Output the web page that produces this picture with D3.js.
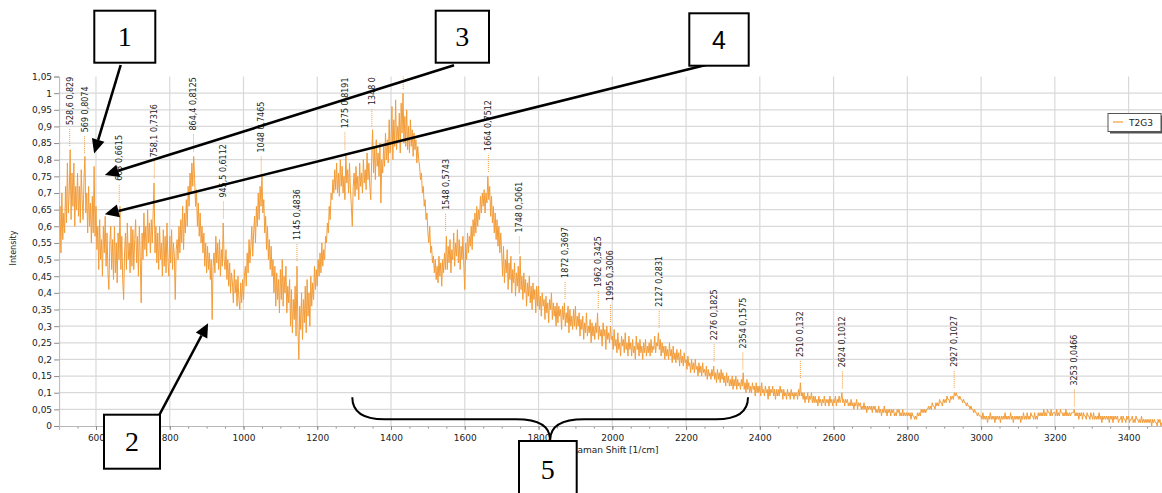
<!DOCTYPE html>
<html>
<head>
<meta charset="utf-8">
<script src="https://cdn.jsdelivr.net/npm/d3@7"></script>
<style>
  body { margin: 0; background: #fff; }
  svg { display: block; }
</style>
</head>
<body>
<svg id="chart" width="1162" height="493"></svg>
<script>
// Raman spectrum of sample T2G3: one intensity every 2.5 cm-1, starting at 500 cm-1
const seriesName = "T2G3";
const shiftStart = 500;
const shiftStep = 2.5;
const intensity = [
  /* 500 */ 0.60,0.66,0.52,0.70,0.56,0.64,0.58,0.72,0.61,0.79,0.64,0.70,0.83,0.62,0.76,0.66,0.79,0.60,0.72,0.65,
  /* 550 */ 0.76,0.63,0.72,0.61,0.77,0.68,0.62,0.74,0.81,0.64,0.70,0.58,0.72,0.60,0.67,0.55,0.69,0.58,0.78,0.57,
  /* 600 */ 0.66,0.53,0.60,0.47,0.62,0.50,0.56,0.45,0.60,0.52,0.63,0.48,0.58,0.46,0.41,0.55,0.60,0.47,0.56,0.44,
  /* 650 */ 0.60,0.46,0.55,0.43,0.58,0.50,0.66,0.47,0.57,0.44,0.38,0.52,0.58,0.47,0.61,0.50,0.55,0.46,0.60,0.48,
  /* 700 */ 0.59,0.47,0.56,0.62,0.49,0.57,0.45,0.60,0.51,0.37,0.58,0.50,0.64,0.53,0.60,0.51,0.65,0.55,0.61,0.52,
  /* 750 */ 0.62,0.55,0.64,0.73,0.52,0.60,0.49,0.58,0.47,0.60,0.50,0.55,0.45,0.59,0.48,0.57,0.46,0.61,0.50,0.45,
  /* 800 */ 0.57,0.49,0.59,0.47,0.55,0.51,0.38,0.53,0.56,0.50,0.60,0.52,0.62,0.55,0.66,0.53,0.64,0.58,0.68,0.60,
  /* 850 */ 0.72,0.66,0.76,0.70,0.79,0.72,0.81,0.74,0.66,0.71,0.60,0.67,0.57,0.64,0.55,0.60,0.52,0.58,0.48,0.55,
  /* 900 */ 0.46,0.54,0.47,0.52,0.44,0.50,0.32,0.48,0.52,0.46,0.57,0.49,0.55,0.47,0.56,0.45,0.53,0.48,0.61,0.50,
  /* 950 */ 0.47,0.53,0.44,0.50,0.42,0.49,0.40,0.46,0.43,0.37,0.47,0.40,0.44,0.36,0.45,0.38,0.35,0.43,0.37,0.44,
  /* 1000 */ 0.38,0.45,0.48,0.42,0.52,0.46,0.56,0.49,0.54,0.60,0.51,0.58,0.63,0.55,0.66,0.60,0.70,0.62,0.72,0.66,
  /* 1050 */ 0.75,0.64,0.68,0.58,0.63,0.53,0.60,0.50,0.56,0.47,0.54,0.45,0.50,0.40,0.48,0.36,0.46,0.38,0.44,0.34,
  /* 1100 */ 0.47,0.38,0.50,0.36,0.45,0.40,0.48,0.34,0.42,0.37,0.44,0.30,0.41,0.28,0.38,0.32,0.42,0.27,0.48,0.30,
  /* 1150 */ 0.20,0.36,0.29,0.40,0.26,0.38,0.31,0.42,0.28,0.44,0.33,0.40,0.30,0.45,0.36,0.43,0.38,0.48,0.41,0.47,
  /* 1200 */ 0.42,0.50,0.45,0.52,0.46,0.55,0.48,0.53,0.50,0.57,0.55,0.61,0.58,0.66,0.62,0.70,0.68,0.74,0.70,0.77,
  /* 1250 */ 0.71,0.79,0.70,0.76,0.69,0.80,0.72,0.78,0.70,0.75,0.68,0.82,0.73,0.77,0.70,0.79,0.71,0.66,0.60,0.72,
  /* 1300 */ 0.76,0.69,0.78,0.71,0.75,0.68,0.79,0.72,0.76,0.70,0.80,0.73,0.77,0.71,0.82,0.74,0.79,0.72,0.68,0.80,
  /* 1350 */ 0.89,0.76,0.84,0.74,0.86,0.78,0.82,0.75,0.85,0.67,0.80,0.76,0.84,0.78,0.88,0.80,0.86,0.79,0.92,0.82,
  /* 1400 */ 0.85,0.96,0.80,0.92,0.84,0.98,0.83,0.90,0.86,0.94,0.82,0.97,0.88,1.00,0.85,0.93,0.84,0.95,0.83,0.90,
  /* 1450 */ 0.82,0.92,0.84,0.89,0.81,0.88,0.83,0.86,0.79,0.84,0.80,0.78,0.74,0.76,0.70,0.72,0.66,0.68,0.62,0.64,
  /* 1500 */ 0.58,0.55,0.60,0.52,0.54,0.49,0.51,0.46,0.50,0.44,0.48,0.43,0.51,0.45,0.49,0.42,0.50,0.46,0.52,0.47,
  /* 1550 */ 0.57,0.47,0.54,0.49,0.56,0.46,0.53,0.50,0.58,0.48,0.55,0.51,0.59,0.49,0.56,0.47,0.54,0.50,0.57,0.48,
  /* 1600 */ 0.41,0.55,0.50,0.58,0.52,0.57,0.54,0.60,0.53,0.62,0.57,0.64,0.58,0.66,0.60,0.65,0.62,0.69,0.64,0.70,
  /* 1650 */ 0.66,0.71,0.64,0.70,0.67,0.75,0.68,0.72,0.63,0.69,0.61,0.66,0.58,0.64,0.56,0.62,0.54,0.60,0.52,0.58,
  /* 1700 */ 0.52,0.45,0.54,0.43,0.50,0.46,0.53,0.41,0.49,0.44,0.51,0.40,0.47,0.43,0.49,0.39,0.46,0.42,0.48,0.40,
  /* 1750 */ 0.51,0.41,0.45,0.38,0.46,0.40,0.44,0.36,0.43,0.39,0.45,0.37,0.42,0.35,0.43,0.38,0.41,0.34,0.42,0.36,
  /* 1800 */ 0.42,0.35,0.39,0.33,0.40,0.36,0.38,0.32,0.39,0.34,0.37,0.31,0.38,0.35,0.40,0.32,0.37,0.33,0.36,0.30,
  /* 1850 */ 0.37,0.31,0.36,0.33,0.35,0.29,0.36,0.32,0.37,0.30,0.34,0.31,0.36,0.28,0.35,0.30,0.33,0.29,0.35,0.30,
  /* 1900 */ 0.36,0.29,0.33,0.30,0.34,0.27,0.32,0.29,0.33,0.26,0.31,0.28,0.34,0.27,0.30,0.28,0.32,0.25,0.31,0.27,
  /* 1950 */ 0.30,0.26,0.31,0.28,0.34,0.26,0.30,0.27,0.29,0.24,0.31,0.27,0.29,0.23,0.30,0.26,0.28,0.25,0.30,0.26,
  /* 2000 */ 0.27,0.23,0.29,0.24,0.26,0.22,0.28,0.23,0.25,0.21,0.27,0.24,0.26,0.22,0.28,0.23,0.25,0.21,0.27,0.23,
  /* 2050 */ 0.25,0.21,0.26,0.22,0.24,0.20,0.27,0.23,0.25,0.21,0.26,0.22,0.24,0.20,0.25,0.22,0.26,0.21,0.24,0.22,
  /* 2100 */ 0.25,0.21,0.26,0.22,0.24,0.23,0.27,0.22,0.25,0.24,0.28,0.23,0.26,0.21,0.25,0.22,0.24,0.20,0.24,0.21,
  /* 2150 */ 0.23,0.20,0.25,0.21,0.23,0.19,0.24,0.20,0.22,0.19,0.23,0.20,0.22,0.18,0.23,0.19,0.21,0.18,0.22,0.19,
  /* 2200 */ 0.20,0.17,0.21,0.18,0.19,0.16,0.20,0.17,0.19,0.16,0.20,0.17,0.18,0.15,0.19,0.16,0.18,0.15,0.19,0.16,
  /* 2250 */ 0.17,0.15,0.18,0.14,0.17,0.15,0.16,0.14,0.17,0.15,0.18,0.14,0.16,0.13,0.17,0.14,0.16,0.13,0.17,0.14,
  /* 2300 */ 0.16,0.13,0.15,0.12,0.16,0.13,0.15,0.12,0.14,0.12,0.15,0.11,0.14,0.12,0.15,0.11,0.14,0.12,0.13,0.11,
  /* 2350 */ 0.14,0.12,0.16,0.11,0.13,0.10,0.14,0.11,0.13,0.10,0.12,0.10,0.13,0.11,0.12,0.09,0.13,0.10,0.12,0.10,
  /* 2400 */ 0.12,0.09,0.13,0.10,0.11,0.09,0.12,0.10,0.11,0.08,0.12,0.09,0.11,0.10,0.12,0.09,0.11,0.08,0.11,0.09,
  /* 2450 */ 0.11,0.09,0.12,0.10,0.11,0.08,0.11,0.09,0.10,0.08,0.11,0.09,0.10,0.08,0.11,0.09,0.10,0.08,0.10,0.09,
  /* 2500 */ 0.10,0.08,0.11,0.09,0.13,0.09,0.10,0.08,0.10,0.07,0.09,0.08,0.10,0.07,0.09,0.08,0.10,0.07,0.09,0.07,
  /* 2550 */ 0.09,0.07,0.08,0.06,0.09,0.07,0.08,0.06,0.08,0.07,0.09,0.06,0.08,0.07,0.08,0.06,0.09,0.07,0.08,0.06,
  /* 2600 */ 0.08,0.07,0.09,0.06,0.08,0.07,0.09,0.07,0.08,0.10,0.07,0.08,0.06,0.08,0.07,0.08,0.06,0.07,0.06,0.08,
  /* 2650 */ 0.06,0.07,0.05,0.07,0.06,0.08,0.05,0.07,0.06,0.07,0.05,0.06,0.05,0.07,0.05,0.06,0.04,0.06,0.05,0.06,
  /* 2700 */ 0.05,0.06,0.04,0.06,0.05,0.06,0.04,0.05,0.04,0.06,0.04,0.05,0.03,0.05,0.04,0.06,0.04,0.05,0.03,0.05,
  /* 2750 */ 0.04,0.05,0.03,0.05,0.04,0.05,0.03,0.04,0.03,0.05,0.04,0.05,0.03,0.04,0.03,0.05,0.03,0.04,0.03,0.04,
  /* 2800 */ 0.03,0.04,0.03,0.04,0.02,0.04,0.03,0.03,0.02,0.03,0.02,0.04,0.03,0.04,0.03,0.05,0.04,0.05,0.04,0.05,
  /* 2850 */ 0.04,0.05,0.05,0.06,0.05,0.06,0.05,0.07,0.06,0.06,0.05,0.07,0.06,0.07,0.06,0.08,0.07,0.07,0.06,0.08,
  /* 2900 */ 0.07,0.08,0.07,0.09,0.08,0.08,0.07,0.09,0.08,0.09,0.08,0.10,0.09,0.10,0.09,0.09,0.08,0.09,0.08,0.08,
  /* 2950 */ 0.07,0.08,0.07,0.07,0.06,0.07,0.06,0.06,0.05,0.06,0.05,0.05,0.04,0.05,0.04,0.04,0.03,0.04,0.03,0.03,
  /* 3000 */ 0.03,0.02,0.04,0.02,0.03,0.02,0.03,0.01,0.03,0.02,0.04,0.02,0.03,0.02,0.03,0.01,0.03,0.02,0.03,0.02,
  /* 3050 */ 0.03,0.01,0.03,0.02,0.03,0.02,0.04,0.02,0.03,0.02,0.03,0.02,0.04,0.02,0.03,0.01,0.03,0.02,0.03,0.02,
  /* 3100 */ 0.03,0.02,0.03,0.01,0.03,0.02,0.04,0.02,0.03,0.02,0.04,0.02,0.03,0.02,0.04,0.03,0.03,0.02,0.04,0.02,
  /* 3150 */ 0.03,0.02,0.04,0.03,0.04,0.03,0.04,0.03,0.05,0.03,0.04,0.03,0.05,0.04,0.04,0.03,0.05,0.03,0.04,0.04,
  /* 3200 */ 0.04,0.03,0.05,0.03,0.04,0.03,0.05,0.04,0.04,0.03,0.04,0.03,0.05,0.03,0.04,0.03,0.04,0.03,0.04,0.04,
  /* 3250 */ 0.04,0.05,0.03,0.04,0.03,0.04,0.02,0.04,0.03,0.04,0.02,0.04,0.03,0.03,0.02,0.04,0.03,0.03,0.02,0.04,
  /* 3300 */ 0.03,0.02,0.04,0.02,0.03,0.02,0.03,0.02,0.04,0.02,0.03,0.01,0.03,0.02,0.03,0.02,0.03,0.02,0.03,0.01,
  /* 3350 */ 0.03,0.02,0.03,0.01,0.03,0.02,0.03,0.02,0.03,0.01,0.02,0.02,0.03,0.01,0.03,0.02,0.02,0.01,0.03,0.02,
  /* 3400 */ 0.03,0.01,0.02,0.02,0.03,0.01,0.02,0.01,0.03,0.02,0.02,0.01,0.02,0.01,0.03,0.01,0.02,0.01,0.02,0.01,
  /* 3450 */ 0.02,0.01,0.02,0.01,0.02,0.00,0.02,0.01,0.02,0.01,0.01,0.00,0.02,0.01,0.02,0.00,0.01,0.01,0.02,0.00
];

// picked peaks: position [1/cm] and intensity
const peakShift     = [528.6, 569, 663, 758.1, 864.4, 945.5, 1048, 1145, 1275, 1348, 1433, 1548, 1664, 1748, 1872, 1962, 1995, 2127, 2276, 2354, 2510, 2624, 2927, 3253];
const peakIntensity = [0.829, 0.8074, 0.6615, 0.7316, 0.8125, 0.6112, 0.7465, 0.4836, 0.8191, 0.889, 1.0, 0.5743, 0.7512, 0.5061, 0.3697, 0.3425, 0.3006, 0.2831, 0.1825, 0.1575, 0.132, 0.1012, 0.1027, 0.0466];

const xTicks = [600, 800, 1000, 1200, 1400, 1600, 1800, 2000, 2200, 2400, 2600, 2800, 3000, 3200, 3400];
const yTicks = [0, 0.05, 0.1, 0.15, 0.2, 0.25, 0.3, 0.35, 0.4, 0.45, 0.5, 0.55, 0.6, 0.65, 0.7, 0.75, 0.8, 0.85, 0.9, 0.95, 1, 1.05];
const xTitle = "Raman Shift [1/cm]";
const yTitle = "Intensity";

// numbered callouts: label, and the spectrum point each arrow points at
const calloutLabels = ["1", "2", "3", "4", "5"];
const arrowTargetShift     = [595, 904, 624, 624];
const arrowTargetIntensity = [0.819, 0.309, 0.754, 0.636];
const braceRange = [1295, 2368];

const orange = "#f39c38";
const svg = d3.select("#chart");

const plot = { left: 59.1, right: 1165.5, top: 76.5, bottom: 426 };
const x = d3.scaleLinear().domain([500, 3500]).range([plot.left, plot.right]);
const y = d3.scaleLinear().domain([0, 1.05]).range([plot.bottom, plot.top]);
const comma = v => String(v).replace(".", ",");

svg.append("defs").append("clipPath").attr("id", "plotClip")
  .append("rect")
  .attr("x", plot.left).attr("y", plot.top)
  .attr("width", plot.right - plot.left).attr("height", plot.bottom - plot.top);

// grid
const grid = svg.append("g").attr("stroke", "#d9d9d9").attr("stroke-width", 1.2);
grid.selectAll("line.v").data(xTicks).join("line").attr("class", "v")
  .attr("x1", d => x(d)).attr("x2", d => x(d))
  .attr("y1", plot.top).attr("y2", plot.bottom);
grid.selectAll("line.h").data(yTicks.filter(d => d > 0 && d < 1.05)).join("line").attr("class", "h")
  .attr("x1", plot.left).attr("x2", plot.right)
  .attr("y1", d => y(d)).attr("y2", d => y(d));

// axes
const fontFam = "DejaVu Sans, Verdana, sans-serif";
const yAxis = svg.append("g").attr("transform", `translate(${plot.left},0)`)
  .call(d3.axisLeft(y).tickValues(yTicks).tickSize(5).tickPadding(2)
        .tickFormat(d => comma(+d3.format(".2f")(d))));
const xAxisMinor = svg.append("g").attr("transform", `translate(0,${plot.bottom})`)
  .call(d3.axisBottom(x).tickValues(d3.range(550, 3500, 50)).tickSize(2.5).tickFormat(""));
const xAxis = svg.append("g").attr("transform", `translate(0,${plot.bottom})`)
  .call(d3.axisBottom(x).tickValues(xTicks).tickSize(4).tickPadding(5).tickFormat(d => d));
[yAxis, xAxis, xAxisMinor].forEach(a => {
  a.select(".domain").attr("stroke", "#b8b8b8");
  a.selectAll(".tick line").attr("stroke", "#8a8a8a");
  a.selectAll("text").attr("fill", "#222").style("font-family", fontFam).style("font-size", "9px");
});

svg.append("text").text(xTitle)
  .attr("x", 615).attr("y", 452.5).attr("text-anchor", "middle")
  .style("font-family", fontFam).style("font-size", "9px").attr("fill", "#222");
svg.append("text").text(yTitle)
  .attr("transform", `translate(16,248) rotate(-90)`).attr("text-anchor", "middle")
  .style("font-family", fontFam).style("font-size", "8px").attr("fill", "#222");

// spectrum
const body = svg.append("g").attr("clip-path", "url(#plotClip)");
body.append("path").datum(intensity)
  .attr("fill", "none").attr("stroke", orange).attr("stroke-width", 1)
  .attr("stroke-linejoin", "miter")
  .attr("d", d3.line().x((d, i) => x(shiftStart + i * shiftStep)).y(d => y(d)));

// peak markers
const peaks = peakShift.map((s, i) => ({ s, v: peakIntensity[i] }));
const pk = body.selectAll("g.peak").data(peaks).join("g").attr("class", "peak");
pk.append("line")
  .attr("x1", d => x(d.s)).attr("x2", d => x(d.s))
  .attr("y1", d => y(d.v) - 4).attr("y2", d => y(d.v) - 22)
  .attr("stroke", orange).attr("stroke-width", 1).attr("stroke-dasharray", "1,1");
pk.append("text")
  .attr("transform", d => `translate(${x(d.s) + 3},${y(d.v) - 25}) rotate(-90)`)
  .text(d => `${comma(d.s)} ${comma(d.v)}`)
  .style("font-family", fontFam).style("font-size", "8px").attr("fill", "#222");

// legend
const lg = svg.append("g").attr("transform", "translate(1108,113.5)");
lg.append("rect").attr("x", 2).attr("y", 2).attr("width", 53).attr("height", 18).attr("fill", "#555");
lg.append("rect").attr("x", 0).attr("y", 0).attr("width", 53).attr("height", 18)
  .attr("fill", "#fff").attr("stroke", "#555").attr("stroke-width", 1);
lg.append("line").attr("x1", 5).attr("x2", 15).attr("y1", 8.5).attr("y2", 8.5)
  .attr("stroke", orange).attr("stroke-width", 1.2);
lg.append("text").text(seriesName).attr("x", 21).attr("y", 12.3)
  .style("font-family", fontFam).style("font-size", "9px").attr("fill", "#222");

// callout boxes, arrows and brace
const ann = svg.append("g");
function arrow(x0, y0, x1, y1) {
  const ang = Math.atan2(y1 - y0, x1 - x0), len = 14, hw = 6.5;
  const bx = x1 - len * Math.cos(ang), by = y1 - len * Math.sin(ang);
  ann.append("line").attr("x1", x0).attr("y1", y0).attr("x2", bx).attr("y2", by)
    .attr("stroke", "#000").attr("stroke-width", 2.6);
  const px = -Math.sin(ang) * hw, py = Math.cos(ang) * hw;
  ann.append("path").attr("d", `M${x1},${y1}L${bx + px},${by + py}L${bx - px},${by - py}Z`).attr("fill", "#000");
}
arrow(120.7, 65, x(arrowTargetShift[0]), y(arrowTargetIntensity[0]));
arrow(159.3, 415, x(arrowTargetShift[1]), y(arrowTargetIntensity[1]));
arrow(454, 65.3, x(arrowTargetShift[2]), y(arrowTargetIntensity[2]));
arrow(705.7, 65, x(arrowTargetShift[3]), y(arrowTargetIntensity[3]));

const xl = x(braceRange[0]), xr = x(braceRange[1]), xm = (xl + xr) / 2;
const yt = 397.3, yh = 419.3, yb = 440;
ann.append("path")
  .attr("d", `M${xl},${yt} Q${xl},${yh} ${xl + 32},${yh} L${xm - 34},${yh} Q${xm},${yh} ${xm},${yb}
              Q${xm},${yh} ${xm + 34},${yh} L${xr - 32},${yh} Q${xr},${yh} ${xr},${yt}`)
  .attr("fill", "none").attr("stroke", "#000").attr("stroke-width", 2);

const boxes = [
  { x: 94.3, y: 10.7, w: 61, h: 52, serif: true },
  { x: 104, y: 414.7, w: 56, h: 54, serif: true },
  { x: 435.7, y: 10.7, w: 53.3, h: 52, serif: true },
  { x: 689.3, y: 13.3, w: 59.4, h: 52.4, serif: false },
  { x: 519, y: 441, w: 57.7, h: 60, serif: true }
];
boxes.forEach((b, i) => {
  ann.append("rect").attr("x", b.x).attr("y", b.y).attr("width", b.w).attr("height", b.h)
    .attr("fill", "#fff").attr("stroke", "#000").attr("stroke-width", 2);
  const cy = i === 4 ? 469.5 : b.y + b.h / 2;
  ann.append("text").text(calloutLabels[i])
    .attr("x", b.x + b.w / 2).attr("y", cy + 9.5).attr("text-anchor", "middle")
    .style("font-family", b.serif ? "Liberation Serif, Times New Roman, serif" : "Liberation Sans, Arial, sans-serif")
    .style("font-size", b.serif ? "28px" : "25px").attr("fill", "#000");
});
</script>
</body>
</html>
